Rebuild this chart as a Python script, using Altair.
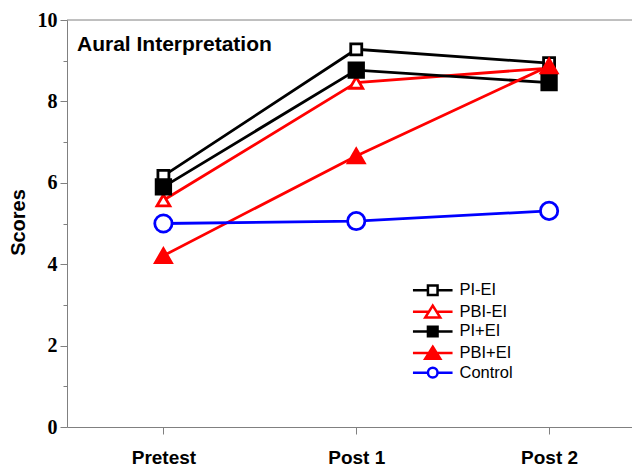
import altair as alt
import pandas as pd

# ---- data ----
stages = ["Pretest", "Post 1", "Post 2"]
series = ["PI-EI", "PBI-EI", "PI+EI", "PBI+EI", "Control"]
pi_ei = [6.17, 9.28, 8.94]
pbi_ei = [5.57, 8.46, 8.82]
pi_plus_ei = [5.90, 8.77, 8.46]
pbi_plus_ei = [4.21, 6.66, 8.87]
control = [5.00, 5.06, 5.31]
panel_title = "Aural Interpretation"
y_title = "Scores"
major_ticks = [0, 2, 4, 6, 8, 10]
minor_ticks = [1, 3, 5, 7, 9]

# ---- styles ----
stroke_colors = ["#000000", "#ff0000", "#000000", "#ff0000", "#0000ff"]
fill_colors = ["#ffffff", "#ffffff", "#000000", "#ff0000", "#ffffff"]
plot_shapes = ["square", "triangle-up", "square", "triangle-up", "circle"]
plot_sizes = [121, 300, 121, 300, 144]
legend_shapes = [
    "M-3.3,0H-0.8M0.8,0H3.3M-0.8,-0.8H0.8V0.8H-0.8Z",
    "M-3.3,0H-0.75M0.75,0H3.3M0,-1.05L1.25,0.95H-1.25Z",
    "M-3.3,0H-0.8M0.8,0H3.3M-0.8,-0.8H0.8V0.8H-0.8Z",
    "M-3.3,0H-0.75M0.75,0H3.3M0,-1.05L1.25,0.95H-1.25Z",
    "M-3.3,0H-0.8M0.8,0H3.3M0.8,0A0.8,0.8,0,1,1,-0.8,0A0.8,0.8,0,1,1,0.8,0Z",
]

rows = []
for name, vals in zip(series, [pi_ei, pbi_ei, pi_plus_ei, pbi_plus_ei, control]):
    for i, v in enumerate(vals):
        rows.append({"series": name, "stage": i, "score": v})
df = pd.DataFrame(rows)

GRAY = "#808080"
SANS = "Liberation Sans"
SERIF = "Liberation Serif"

x_enc = alt.X(
    "stage:Q",
    scale=alt.Scale(domain=[-0.5, 2.43], nice=False, zero=False),
    axis=alt.Axis(
        values=[0, 1, 2],
        labelExpr=f"{stages}[datum.value]",
        title=None, grid=False, tickSize=7, labelPadding=14,
        labelFont=SANS, labelFontWeight="bold", labelFontSize=19,
        labelColor="black", labelAngle=0, labelFlush=False,
        domainColor=GRAY, tickColor=GRAY,
    ),
)
y_scale = alt.Scale(domain=[0, 10], nice=False, zero=True)

y_major = alt.Y(
    "score:Q", scale=y_scale,
    axis=alt.Axis(
        values=major_ticks, orient="left", grid=False, tickSize=7, labelPadding=3,
        labelFont=SERIF, labelFontWeight="bold", labelFontSize=20, labelColor="black",
        labelFlush=False, labelOverlap=False,
        domainColor=GRAY, tickColor=GRAY,
        title=y_title, titleFont=SANS, titleFontWeight="bold", titleFontSize=20,
        titleColor="black", titleAngle=270, titleX=-49, titleY=202,
        titleAlign="center", titleBaseline="middle",
    ),
)

color_scale = alt.Scale(domain=series, range=stroke_colors)
fill_scale = alt.Scale(domain=series, range=fill_colors)

lines = alt.Chart(df).mark_line(strokeWidth=2.8).encode(
    x=x_enc, y=y_major,
    color=alt.Color("series:N", scale=color_scale, legend=None),
)
points = alt.Chart(df).mark_point(filled=True, strokeWidth=2.8, opacity=1).encode(
    x=x_enc,
    y=y_major,
    stroke=alt.Stroke("series:N", scale=color_scale, legend=None),
    fill=alt.Fill("series:N", scale=fill_scale, legend=None),
    shape=alt.Shape("series:N", scale=alt.Scale(domain=series, range=plot_shapes), legend=None),
    size=alt.Size("series:N", scale=alt.Scale(domain=series, range=plot_sizes), legend=None),
)
core = alt.layer(lines, points)

top_rule = alt.Chart(pd.DataFrame({"top": [10]})).mark_rule(color=GRAY, strokeWidth=1).encode(
    y=alt.Y("top:Q", scale=y_scale, axis=alt.Axis(
        values=minor_ticks, orient="left", labels=False, tickSize=4, domain=False,
        grid=False, title=None, tickColor=GRAY)),
)

leg = alt.Legend(
    orient="none", legendX=357.5, legendY=262, title=None, padding=0,
    labelFont=SANS, labelFontSize=16.5, labelColor="black", labelOffset=18.5,
    symbolSize=144, symbolStrokeWidth=2.5, rowPadding=-1.4,
)
legend_layer = alt.Chart(df).transform_filter("false").mark_point(
    filled=True, size=144, strokeWidth=2.5, opacity=1
).encode(
    x=x_enc,
    y=alt.Y("score:Q", scale=y_scale, axis=None),
    stroke=alt.Stroke("series:N", scale=color_scale, legend=leg),
    fill=alt.Fill("series:N", scale=fill_scale, legend=leg),
    shape=alt.Shape("series:N", scale=alt.Scale(domain=series, range=legend_shapes), legend=leg),
)

title_text = alt.Chart(pd.DataFrame({"label": [panel_title]})).mark_text(
    align="left", baseline="alphabetic", font=SANS, fontWeight="bold",
    fontSize=21, color="black",
).encode(x=alt.value(10), y=alt.value(31), text="label:N")

chart = alt.layer(core, top_rule, legend_layer, title_text).resolve_scale(
    y="independent", shape="independent", fill="independent",
    stroke="independent", color="independent", size="independent",
).resolve_axis(y="independent").properties(
    width=565, height=407,
    autosize=alt.AutoSizeParams(type="none"),
    padding={"left": 59, "top": 12, "right": 0, "bottom": 40},
    background="white",
).configure_view(stroke=None)

chart.save("out.html", embed_options={"renderer": "svg", "actions": False})
